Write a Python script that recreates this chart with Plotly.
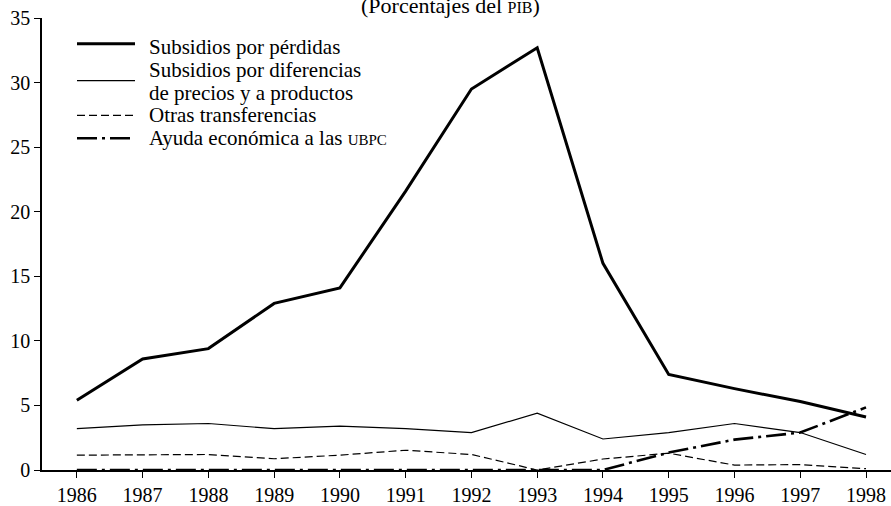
import plotly.graph_objects as go

years = [1986, 1987, 1988, 1989, 1990, 1991, 1992, 1993, 1994, 1995, 1996, 1997, 1998]
perdidas = [5.4, 8.6, 9.4, 12.9, 14.1, 21.6, 29.5, 32.7, 16.0, 7.4, 6.3, 5.3, 4.1]
diferencias = [3.2, 3.5, 3.6, 3.2, 3.4, 3.2, 2.9, 4.4, 2.4, 2.9, 3.6, 2.9, 1.2]
otras = [1.15, 1.15, 1.2, 0.87, 1.15, 1.53, 1.2, 0.0, 0.85, 1.3, 0.38, 0.42, 0.1]
ubpc = [0.0, 0.0, 0.0, 0.0, 0.0, 0.0, 0.0, 0.0, 0.0, 1.35, 2.35, 2.9, 4.85]
y_ticks = [0, 5, 10, 15, 20, 25, 30, 35]

FONT = "Liberation Serif"
W, H = 891, 506
L, R, T, B = 42, 0, 18, 33

DASHED = "8px,4px"
DASHDOT = "20px,5px,3px,5px"


def px(x):
    return (x - L) / (W - L - R)


def py(y):
    return 1 - (y - T) / (H - T - B)


series = [
    ("Subsidios por pérdidas", perdidas, 3, "solid"),
    ("Subsidios por diferencias", diferencias, 1.2, "solid"),
    ("Otras transferencias", otras, 1.2, DASHED),
    ("Ayuda económica a las UBPC", ubpc, 2.6, DASHDOT),
]

fig = go.Figure()
for name, vals, w, dash in series:
    fig.add_trace(
        go.Scatter(
            x=years,
            y=vals,
            mode="lines",
            name=name,
            line=dict(color="black", width=w, dash=dash),
            showlegend=False,
            cliponaxis=False,
        )
    )

# hand-made legend so the samples and text sit like the printed figure
samples = [(44, 3, "solid"), (81, 1.2, "solid"), (116, 1.2, DASHED), (139, 2.6, DASHDOT)]
texts = [
    (47, "Subsidios por pérdidas"),
    (70, "Subsidios por diferencias"),
    (93, "de precios y a productos"),
    (116, "Otras transferencias"),
    (139, "Ayuda económica a las <span style='font-size:15px'>UBPC</span>"),
]
shapes = []
annotations = []
for line_y, w, dash in samples:
    shapes.append(
        dict(
            type="line", xref="paper", yref="paper",
            x0=px(77), x1=px(135), y0=py(line_y), y1=py(line_y),
            line=dict(color="black", width=w, dash=dash),
        )
    )
for text_y, text in texts:
    annotations.append(
        dict(
            text=text, xref="paper", yref="paper",
            x=px(147), y=py(text_y), xanchor="left", yanchor="middle",
            showarrow=False,
            font=dict(family=FONT, size=21, color="black"),
        )
    )

annotations.append(
    dict(
        text="(Porcentajes del <span style='font-size:16px'>PIB</span>)",
        xref="paper", yref="paper", x=px(450), y=1, yshift=13,
        xanchor="center", yanchor="middle", showarrow=False,
        font=dict(family=FONT, size=22, color="black"),
    )
)

fig.update_layout(
    width=W,
    height=H,
    margin=dict(l=L, r=R, t=T, b=B),
    paper_bgcolor="white",
    plot_bgcolor="white",
    font=dict(family=FONT, size=20, color="black"),
    shapes=shapes,
    annotations=annotations,
)
fig.update_xaxes(
    range=[1985.47, 1998.38],
    tickvals=years,
    ticks="outside",
    ticklen=6,
    tickcolor="black",
    showline=True,
    linecolor="black",
    linewidth=1.5,
    showgrid=False,
    zeroline=False,
    tickfont=dict(family=FONT, size=20),
)
fig.update_yaxes(
    range=[0, 35],
    tickvals=y_ticks,
    ticks="outside",
    ticklen=6,
    tickcolor="black",
    showline=True,
    linecolor="black",
    linewidth=1.5,
    showgrid=False,
    zeroline=False,
    tickfont=dict(family=FONT, size=20),
)

fig.write_html(
    "out.html",
    config={"displayModeBar": False},
    post_script="document.body.style.margin='0';",
)
